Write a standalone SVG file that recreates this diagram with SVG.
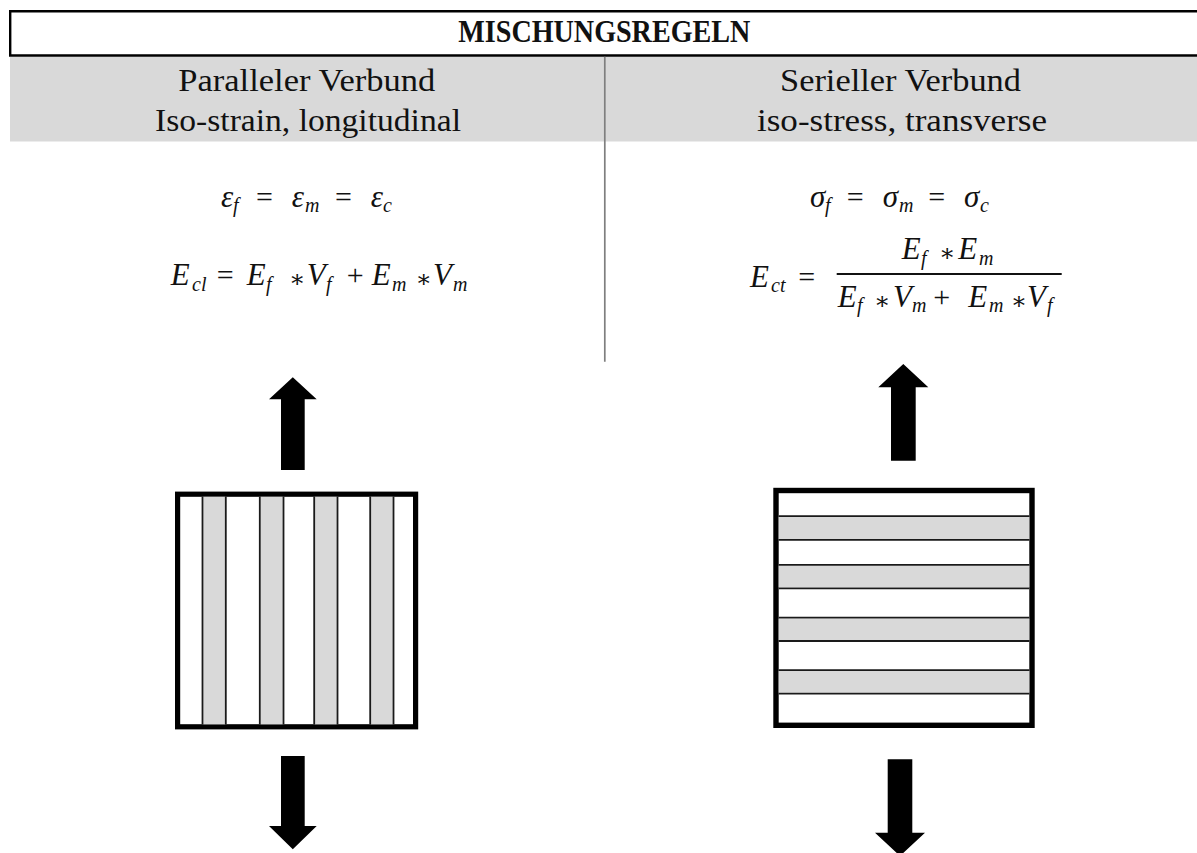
<svg xmlns="http://www.w3.org/2000/svg" width="1197" height="853" viewBox="0 0 1197 853">
<style>
  .hdr { font-family: "Liberation Serif", "DejaVu Serif", serif; font-size: 31.5px; fill: #111; }
  .hdrb { font-family: "Liberation Serif", "DejaVu Serif", serif; font-size: 31.5px; font-weight: bold; fill: #111; }
  .mi { font-family: "Liberation Serif", "DejaVu Serif", serif; font-style: italic; font-size: 31px; fill: #111; }
  .sub { font-family: "Liberation Serif", "DejaVu Serif", serif; font-style: italic; font-size: 20px; fill: #111; }
  .op { font-family: "Liberation Serif", "DejaVu Serif", serif; font-size: 30px; fill: #111; }
  .ast { font-family: "DejaVu Serif", "Liberation Serif", serif; font-size: 24px; fill: #111; }
  .frame { fill: #fff; stroke: #000; }
  .gray { fill: #d9d9d9; }
  .sep { stroke: #1a1a1a; stroke-width: 1.8; }
  .arrow { fill: #000; }
</style>

<g id="header">
  <rect x="10" y="56.7" width="1187" height="84.8" class="gray"/>
  <path d="M10.2 10 V56.7 M9 11.2 H1197 M9 55.5 H1197" stroke="#000" stroke-width="2.4" fill="none"/>
  <line x1="604.8" y1="56.7" x2="604.8" y2="361.7" stroke="#7f7f7f" stroke-width="1.7"/>
  <text class="hdrb" x="458.3" y="41.7" textLength="292" lengthAdjust="spacingAndGlyphs">MISCHUNGSREGELN</text>
</g>

<g id="col-parallel">
  <text class="hdr" x="178.3" y="90.7" textLength="257" lengthAdjust="spacingAndGlyphs">Paralleler Verbund</text>
  <text class="hdr" x="155" y="130.6" textLength="306" lengthAdjust="spacingAndGlyphs">Iso-strain, longitudinal</text>
</g>

<g id="col-serial">
  <text class="hdr" x="780" y="90.7" textLength="241" lengthAdjust="spacingAndGlyphs">Serieller Verbund</text>
  <text class="hdr" x="757" y="130.6" textLength="290" lengthAdjust="spacingAndGlyphs">iso-stress, transverse</text>
</g>

<g id="eq-parallel">
  <text y="206.7">
    <tspan class="mi" x="221">ε</tspan><tspan class="sub" x="233" y="211.7">f</tspan>
    <tspan class="op" x="256" y="206.7">=</tspan>
    <tspan class="mi" x="291.7" y="206.7">ε</tspan><tspan class="sub" x="305" y="211.7">m</tspan>
    <tspan class="op" x="335" y="206.7">=</tspan>
    <tspan class="mi" x="370.7" y="206.7">ε</tspan><tspan class="sub" x="383" y="211.7">c</tspan>
  </text>
  <text y="285">
    <tspan class="mi" x="170.7">E</tspan><tspan class="sub" x="192" y="290.5">cl</tspan>
    <tspan class="op" x="216.7" y="285">=</tspan>
    <tspan class="mi" x="246.7" y="285">E</tspan><tspan class="sub" x="266" y="290.5">f</tspan>
    <tspan class="ast" x="289" y="287">∗</tspan>
    <tspan class="mi" x="306.7" y="285">V</tspan><tspan class="sub" x="326" y="290.5">f</tspan>
    <tspan class="op" x="346.7" y="285">+</tspan>
    <tspan class="mi" x="371.7" y="285">E</tspan><tspan class="sub" x="392" y="290.5">m</tspan>
    <tspan class="ast" x="415.5" y="287">∗</tspan>
    <tspan class="mi" x="433" y="285">V</tspan><tspan class="sub" x="453" y="290.5">m</tspan>
  </text>
</g>

<g id="eq-serial">
  <text y="206.7">
    <tspan class="mi" x="810">σ</tspan><tspan class="sub" x="825" y="211.7">f</tspan>
    <tspan class="op" x="846.7" y="206.7">=</tspan>
    <tspan class="mi" x="882.7" y="206.7">σ</tspan><tspan class="sub" x="899" y="211.7">m</tspan>
    <tspan class="op" x="928.3" y="206.7">=</tspan>
    <tspan class="mi" x="964" y="206.7">σ</tspan><tspan class="sub" x="980" y="211.7">c</tspan>
  </text>
  <text y="286.7">
    <tspan class="mi" x="750">E</tspan><tspan class="sub" x="771" y="292.2">ct</tspan>
    <tspan class="op" x="798.3" y="286.7">=</tspan>
  </text>
  <text y="259.3">
    <tspan class="mi" x="901.7">E</tspan><tspan class="sub" x="921" y="264.8">f</tspan>
    <tspan class="ast" x="939" y="261.3">∗</tspan>
    <tspan class="mi" x="958.3" y="259.3">E</tspan><tspan class="sub" x="979" y="264.8">m</tspan>
  </text>
  <line x1="836.7" y1="274" x2="1061.7" y2="274" stroke="#111" stroke-width="2"/>
  <text y="306.7">
    <tspan class="mi" x="837.7">E</tspan><tspan class="sub" x="857" y="312.2">f</tspan>
    <tspan class="ast" x="874" y="308.7">∗</tspan>
    <tspan class="mi" x="893" y="306.7">V</tspan><tspan class="sub" x="912" y="312.2">m</tspan>
    <tspan class="op" x="933.3" y="306.7">+</tspan>
    <tspan class="mi" x="968.3" y="306.7">E</tspan><tspan class="sub" x="989" y="312.2">m</tspan>
    <tspan class="ast" x="1010.7" y="308.7">∗</tspan>
    <tspan class="mi" x="1027" y="306.7">V</tspan><tspan class="sub" x="1047" y="312.2">f</tspan>
  </text>
</g>

<g id="box-parallel">
  <rect class="frame" x="177.6" y="494.2" width="238" height="232.6" stroke-width="5.2"/>
  <rect class="gray" x="203.3" y="496.8" width="21.7" height="227.5"/>
  <rect class="gray" x="260.7" y="496.8" width="22" height="227.5"/>
  <rect class="gray" x="315" y="496.8" width="21.7" height="227.5"/>
  <rect class="gray" x="371" y="496.8" width="21.7" height="227.5"/>
  <path class="sep" d="M202.5 496.8V724.3 M225.8 496.8V724.3 M259.8 496.8V724.3 M283.5 496.8V724.3 M314.2 496.8V724.3 M337.5 496.8V724.3 M370.2 496.8V724.3 M393.5 496.8V724.3"/>
</g>

<g id="box-serial">
  <rect class="frame" x="776" y="490.5" width="256" height="234.8" stroke-width="5.4"/>
  <rect class="gray" x="778.7" y="517" width="250.6" height="22"/>
  <rect class="gray" x="778.7" y="565.7" width="250.6" height="21.6"/>
  <rect class="gray" x="778.7" y="618.7" width="250.6" height="21.3"/>
  <rect class="gray" x="778.7" y="671" width="250.6" height="21.7"/>
  <path class="sep" d="M778.7 516.2H1029.3 M778.7 539.9H1029.3 M778.7 564.8H1029.3 M778.7 588.3H1029.3 M778.7 617.7H1029.3 M778.7 641H1029.3 M778.7 670.2H1029.3 M778.7 693.7H1029.3"/>
</g>

<g id="arrows">
  <polygon class="arrow" points="292.8,377.3 316.7,399.3 304.7,399.3 304.7,470 281,470 281,399.3 269,399.3"/>
  <polygon class="arrow" points="281,756 304.7,756 304.7,826 316.7,826 292.8,849.3 269,826 281,826"/>
  <polygon class="arrow" points="903.3,364 928.3,387.3 915.7,387.3 915.7,460.7 891,460.7 891,387.3 878.3,387.3"/>
  <polygon class="arrow" points="887.7,759.3 912.3,759.3 912.3,832.7 925,832.7 900,856 875,832.7 887.7,832.7"/>
</g>
</svg>
